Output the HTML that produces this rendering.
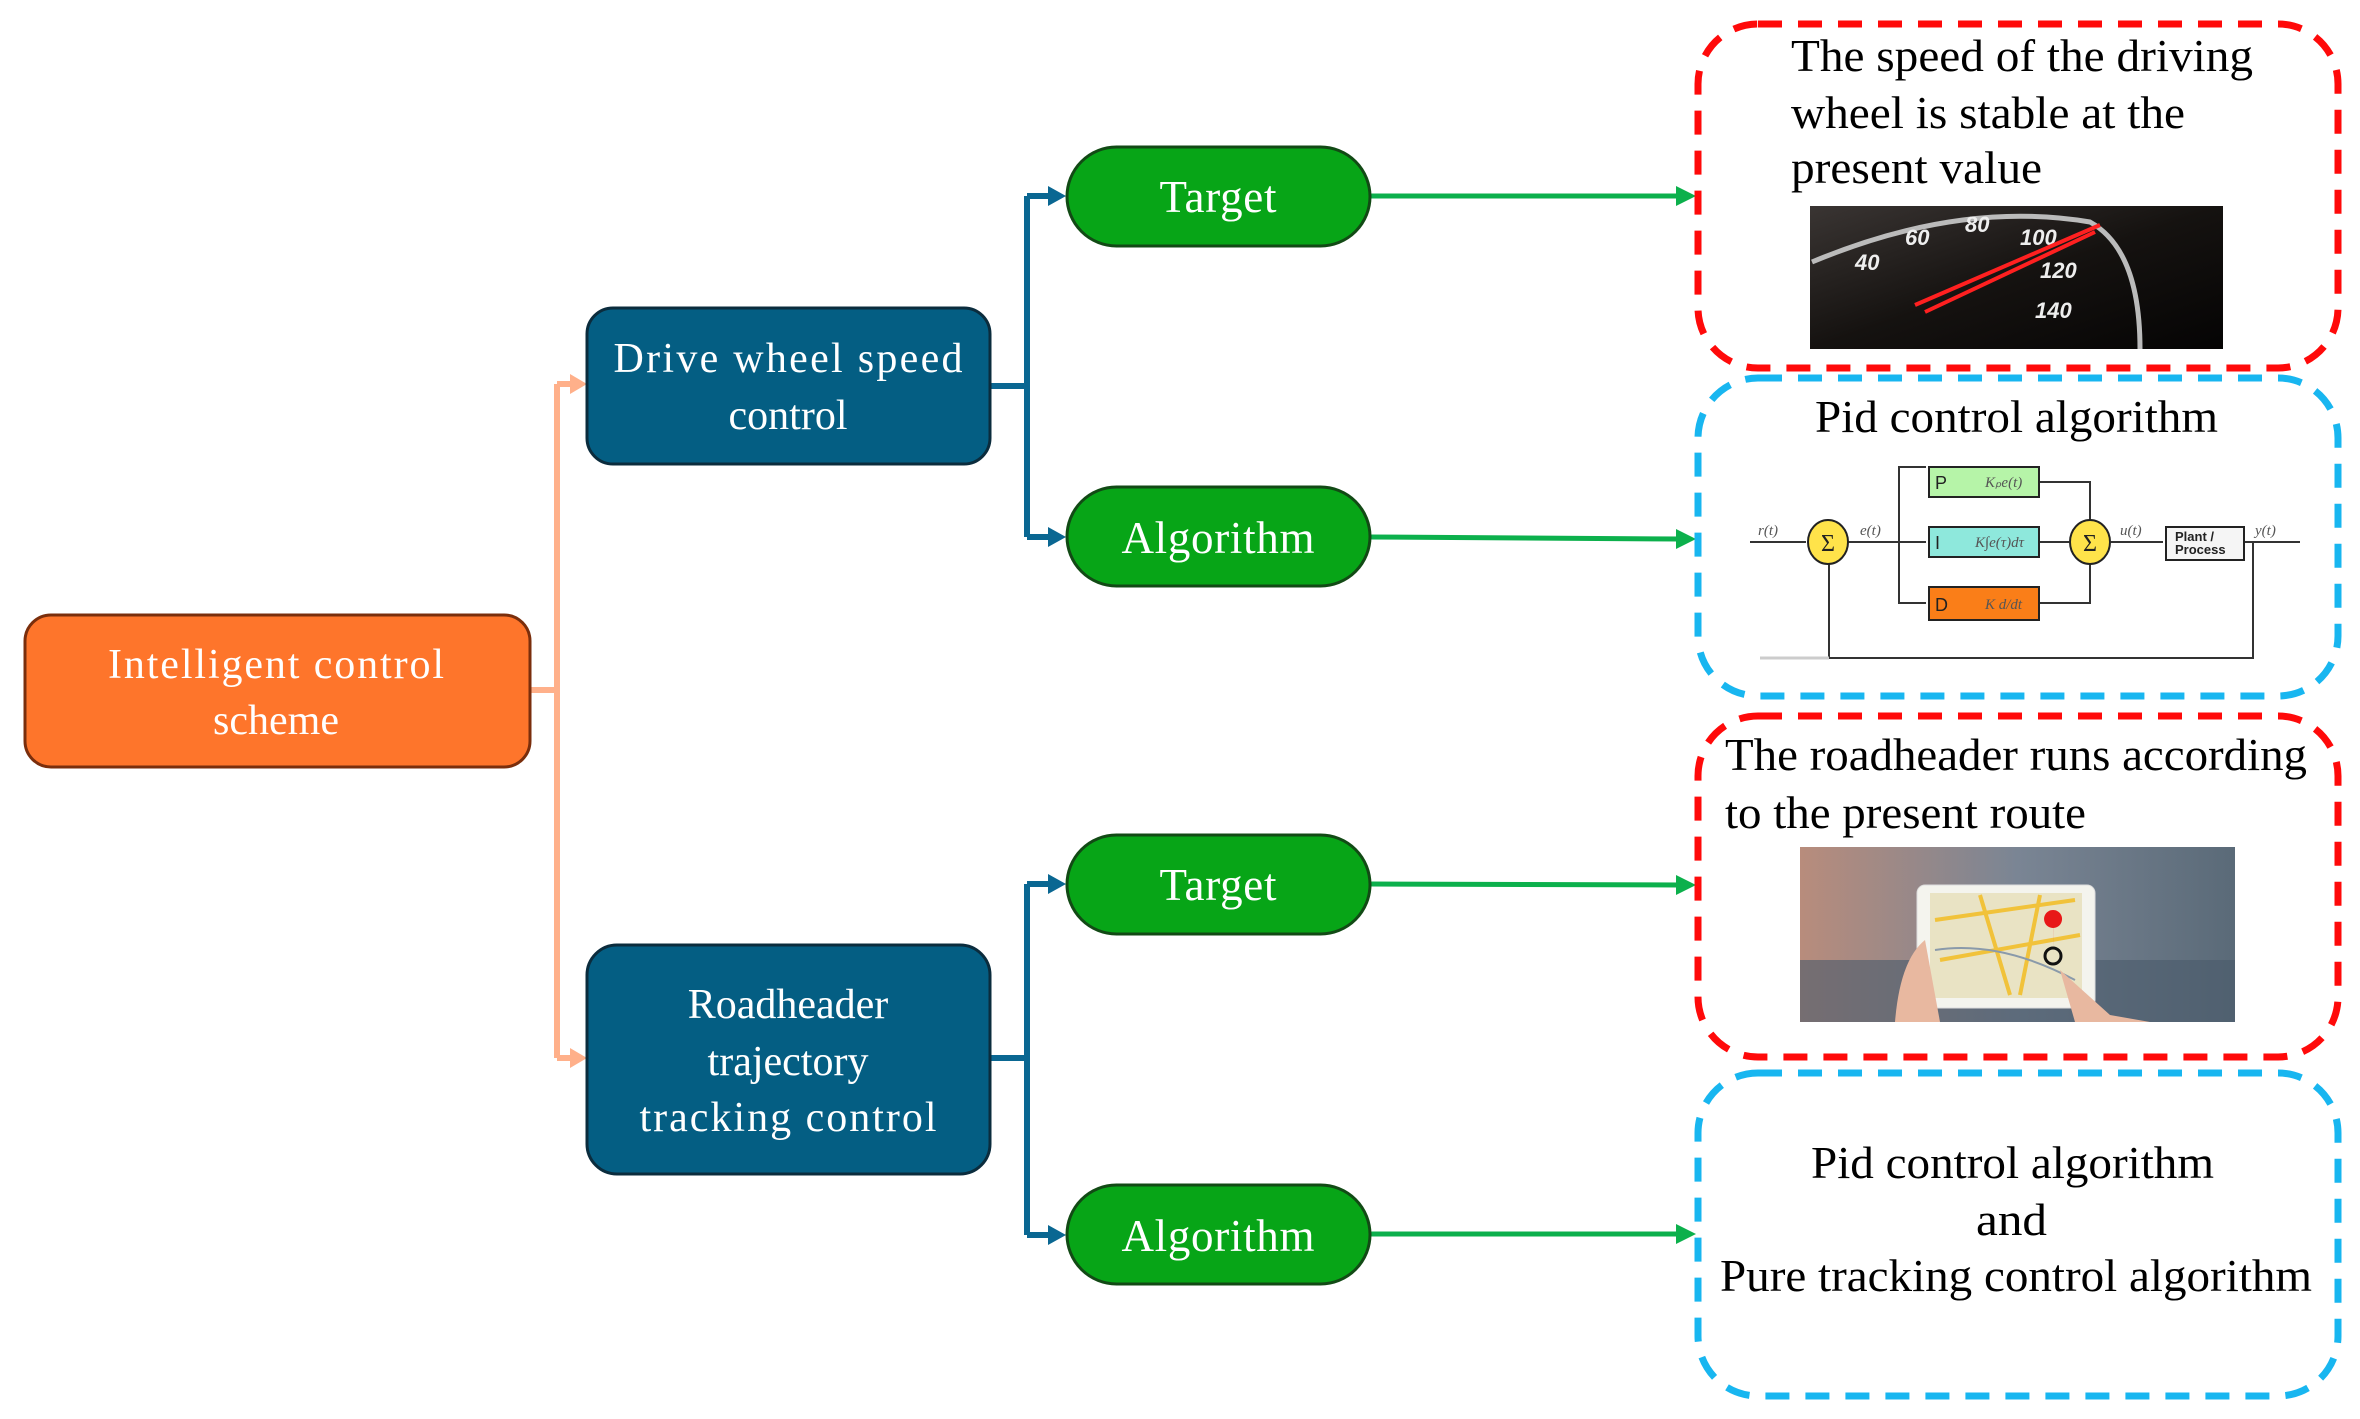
<!DOCTYPE html>
<html><head><meta charset="utf-8"><style>html,body{margin:0;padding:0;background:#fff}svg{display:block}</style></head>
<body>
<svg width="2360" height="1419" viewBox="0 0 2360 1419" xmlns="http://www.w3.org/2000/svg" font-family="'Liberation Serif', serif">
<defs>
<linearGradient id="sp" x1="0" y1="0" x2="1" y2="1"><stop offset="0" stop-color="#3a3533"/><stop offset="0.5" stop-color="#151210"/><stop offset="1" stop-color="#050404"/></linearGradient>
<linearGradient id="mp" x1="0" y1="0" x2="1" y2="0"><stop offset="0" stop-color="#b88c7c"/><stop offset="0.5" stop-color="#7a8594"/><stop offset="1" stop-color="#5a6a78"/></linearGradient>
</defs>
<g stroke="#ffb08a" stroke-width="6" fill="none">
<path d="M530 690 H557 M557 384 V1058 M557 384 H572 M557 1058 H572"/>
</g>
<path d="M570 374 L587 384 L570 394Z M570 1048 L587 1058 L570 1068Z" fill="#ffb08a"/>
<g stroke="#0a6792" stroke-width="6" fill="none">
<path d="M990 386 H1027 M1027 196 V537 M1027 196 H1050 M1027 537 H1050"/>
<path d="M990 1058 H1027 M1027 884 V1235 M1027 884 H1050 M1027 1235 H1050"/>
</g>
<path d="M1048 186 L1066 196 L1048 206Z M1048 527 L1066 537 L1048 547Z M1048 874 L1066 884 L1048 894Z M1048 1225 L1066 1235 L1048 1245Z" fill="#0a6792"/>
<g stroke="#0cb04c" stroke-width="5" fill="none">
<path d="M1370 196 H1680 M1370 537 L1680 539 M1370 884 L1680 885 M1370 1234 H1680"/>
</g>
<path d="M1676 186 L1696 196 L1676 206Z M1676 529 L1696 539 L1676 549Z M1676 875 L1696 885 L1676 895Z M1676 1224 L1696 1234 L1676 1244Z" fill="#0cb04c"/>
<rect x="25" y="615" width="505" height="152" rx="26" fill="#fe752b" stroke="#7a2e0c" stroke-width="3"/>
<rect x="587" y="308" width="403" height="156" rx="26" fill="#045e83" stroke="#0b2c3d" stroke-width="3"/>
<rect x="587" y="945" width="403" height="229" rx="30" fill="#045e83" stroke="#0b2c3d" stroke-width="3"/>
<g fill="#07a517" stroke="#124a15" stroke-width="3">
<rect x="1067" y="147" width="303" height="99" rx="49.5"/>
<rect x="1067" y="487" width="303" height="99" rx="49.5"/>
<rect x="1067" y="835" width="303" height="99" rx="49.5"/>
<rect x="1067" y="1185" width="303" height="99" rx="49.5"/>
</g>
<g fill="#fff" font-size="42" text-anchor="middle">
<text x="276" y="678" textLength="336">Intelligent control</text>
<text x="276" y="734">scheme</text>
<text x="788" y="372" textLength="349">Drive wheel speed</text>
<text x="788" y="429">control</text>
<text x="788" y="1018">Roadheader</text>
<text x="788" y="1075">trajectory</text>
<text x="788" y="1131" textLength="297">tracking control</text>
</g>
<g fill="#fff" font-size="45" text-anchor="middle">
<text x="1218" y="212" textLength="117">Target</text>
<text x="1218" y="553" textLength="193">Algorithm</text>
<text x="1218" y="900" textLength="117">Target</text>
<text x="1218" y="1251" textLength="193">Algorithm</text>
</g>
<g fill="none" stroke-width="7" stroke-dasharray="24 16">
<rect x="1698" y="24" width="640" height="344" rx="60" stroke="#ff0a0a"/>
<rect x="1698" y="378" width="640" height="318" rx="60" stroke="#18b6f0"/>
<rect x="1698" y="716" width="640" height="341" rx="60" stroke="#ff0a0a"/>
<rect x="1698" y="1073" width="640" height="323" rx="60" stroke="#18b6f0"/>
</g>
<g fill="#000" font-size="46">
<text x="1791" y="71" textLength="462" lengthAdjust="spacingAndGlyphs">The speed of the driving</text>
<text x="1791" y="128" textLength="394" lengthAdjust="spacingAndGlyphs">wheel is stable at the</text>
<text x="1791" y="183" textLength="251" lengthAdjust="spacingAndGlyphs">present value</text>
<text x="1815" y="432" textLength="403" lengthAdjust="spacingAndGlyphs">Pid control algorithm</text>
<text x="1725" y="770" textLength="582" lengthAdjust="spacingAndGlyphs">The roadheader runs according</text>
<text x="1725" y="828" textLength="361" lengthAdjust="spacingAndGlyphs">to the present route</text>
<text x="1811" y="1178" textLength="403" lengthAdjust="spacingAndGlyphs">Pid control algorithm</text>
<text x="1976" y="1235" textLength="71" lengthAdjust="spacingAndGlyphs">and</text>
<text x="1720" y="1291" textLength="592" lengthAdjust="spacingAndGlyphs">Pure tracking control algorithm</text>
</g>
<rect x="1810" y="206" width="413" height="143" fill="url(#sp)"/>
<path d="M1812 262 Q1960 200 2090 222 Q2140 250 2140 349" fill="none" stroke="#bbb" stroke-width="5"/>
<g fill="#eee" font-size="22" font-family="'Liberation Sans',sans-serif" font-style="italic" font-weight="bold">
<text x="1855" y="270">40</text><text x="1905" y="245">60</text><text x="1965" y="232">80</text><text x="2020" y="245">100</text><text x="2040" y="278">120</text><text x="2035" y="318">140</text>
</g>
<path d="M1915 305 L2100 225 M1925 312 L2095 232" stroke="#ff2020" stroke-width="4"/>
<g stroke="#333" stroke-width="2" fill="none">
<path d="M1750 542 H1806 M1848 542 H1926 M1899 542 V467 H1926 M1899 542 V603 H1926 M2040 482 H2090 V522 M2040 542 H2069 M2040 603 H2090 V562 M2111 542 H2163 M2245 542 H2300 M2253 542 V658 H1829 V562"/>
</g>
<path d="M1760 658 H1829" stroke="#ccc" stroke-width="3"/>
<g fill="#ffe34a" stroke="#222" stroke-width="2"><ellipse cx="1828" cy="542" rx="20" ry="22"/><ellipse cx="2090" cy="542" rx="20" ry="22"/></g>
<g font-size="24" text-anchor="middle" fill="#222"><text x="1828" y="551">Σ</text><text x="2090" y="551">Σ</text></g>
<rect x="1929" y="467" width="110" height="30" fill="#b6f4a8" stroke="#222" stroke-width="2"/>
<rect x="1929" y="527" width="110" height="30" fill="#8ee8dc" stroke="#222" stroke-width="2"/>
<rect x="1929" y="587" width="110" height="33" fill="#fa7e18" stroke="#222" stroke-width="2"/>
<rect x="2166" y="527" width="78" height="33" fill="#f5f5f5" stroke="#222" stroke-width="2"/>
<g font-size="18" fill="#222" font-family="'Liberation Sans',sans-serif">
<text x="1935" y="489">P</text><text x="1935" y="549">I</text><text x="1935" y="611">D</text>
<text x="2175" y="541" font-size="13" font-weight="bold">Plant /</text><text x="2175" y="554" font-size="13" font-weight="bold">Process</text>
</g>
<g font-size="15" fill="#555" font-style="italic">
<text x="1985" y="487">Kₚe(t)</text><text x="1975" y="547">K∫e(τ)dτ</text><text x="1985" y="609">K d/dt</text>
<text x="1758" y="535">r(t)</text><text x="1860" y="535">e(t)</text><text x="2120" y="535">u(t)</text><text x="2255" y="535">y(t)</text>
</g>
<rect x="1800" y="847" width="435" height="175" fill="url(#mp)"/>
<rect x="1800" y="960" width="435" height="62" fill="#4a5a6a" opacity="0.6"/>
<rect x="1917" y="885" width="178" height="123" rx="8" fill="#f4f4ee" stroke="#ddd"/>
<rect x="1930" y="893" width="152" height="105" fill="#e9e3c4"/>
<path d="M1935 920 L2075 900 M1940 960 L2080 935 M1980 895 L2010 995 M2040 895 L2020 995" stroke="#f1c23a" stroke-width="4"/>
<path d="M1935 950 Q2000 940 2075 980" stroke="#8a9aaa" stroke-width="2" fill="none"/>
<path d="M2053 928 a9 9 0 1 1 0.1 0 L2053 955Z" fill="#e81818"/>
<circle cx="2053" cy="956" r="8" fill="none" stroke="#111" stroke-width="3"/>
<path d="M1895 1022 Q1900 960 1925 940 L1940 1022Z" fill="#e8b8a0"/>
<path d="M2060 970 L2110 1015 L2150 1022 L2075 1022Z" fill="#e8b8a0"/>
</svg>
</body></html>
